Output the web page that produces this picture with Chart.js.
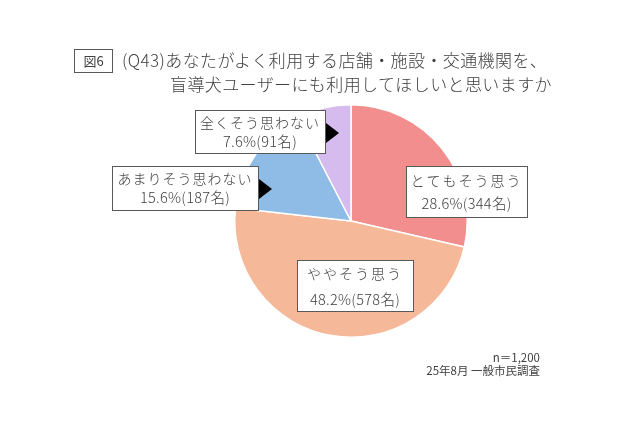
<!DOCTYPE html>
<html lang="ja">
<head>
<meta charset="utf-8">
<script src="https://cdn.jsdelivr.net/npm/chart.js@4.4.1/dist/chart.umd.min.js"></script>
<style>
  html, body { margin: 0; padding: 0; background: #ffffff; }
  #wrap { position: relative; width: 640px; height: 426px; overflow: hidden;
          font-family: "Noto Sans CJK JP", "Noto Sans", sans-serif; color: #404040; }
  #c { position: absolute; left: 0; top: 0; }
  .fig { position: absolute; left: 74px; top: 49px; width: 37px; height: 22px;
         border: 1px solid #595959; font-size: 13px; line-height: 22px; text-align: center; }
  .t { position: absolute; font-size: 17px; line-height: 24px; white-space: nowrap; letter-spacing: 0.4px; font-weight: 300; }
  .note { position: absolute; right: 100px; font-size: 11.5px; line-height: 16px; white-space: nowrap; text-align: right; }
</style>
</head>
<body>
<div id="wrap">
  <canvas id="c" width="640" height="426"></canvas>
  <div class="fig">図6</div>
  <div class="t" style="left:122px; top:48px;">(Q43)あなたがよく利用する店舗・施設・交通機関を、</div>
  <div class="t" style="left:170px; top:72px;">盲導犬ユーザーにも利用してほしいと思いますか</div>
  <div class="note" style="top:349px;">n＝1,200</div>
  <div class="note" style="top:362px;">25年8月 一般市民調査</div>
</div>
<script>
const categories = ["とてもそう思う", "ややそう思う", "あまりそう思わない", "全くそう思わない"];
const percents = [28.6, 48.2, 15.6, 7.6];
const counts = [344, 578, 187, 91];
const colors = ["#F28E8E", "#F5B999", "#8FBBE7", "#D5BBEE"];

const calloutPlugin = {
  id: "callouts",
  afterDraw(chart, args, opts) {
    const ctx = chart.ctx;
    ctx.save();
    opts.boxes.forEach((b, i) => {
      ctx.fillStyle = "#ffffff";
      ctx.fillRect(b.x, b.y, b.w, b.h);
      ctx.strokeStyle = "#595959";
      ctx.lineWidth = 1;
      ctx.strokeRect(b.x + 0.5, b.y + 0.5, b.w, b.h);
      if (b.arrow) {
        ctx.fillStyle = "#000000";
        ctx.beginPath();
        ctx.moveTo(b.arrow.x, b.arrow.y - b.arrow.s);
        ctx.lineTo(b.arrow.x + b.arrow.len, b.arrow.y);
        ctx.lineTo(b.arrow.x, b.arrow.y + b.arrow.s);
        ctx.closePath();
        ctx.fill();
      }
      ctx.fillStyle = "#404040";
      ctx.textAlign = "center";
      ctx.textBaseline = "middle";
      ctx.font = '300 14px "Noto Sans CJK JP", sans-serif';
      if ("letterSpacing" in ctx) ctx.letterSpacing = b.ls1 + "px";
      const cx = b.x + b.w / 2;
      ctx.fillText(categories[i], cx, b.l1);
      ctx.font = '300 14.5px "Noto Sans CJK JP", sans-serif';
      if ("letterSpacing" in ctx) ctx.letterSpacing = "0.3px";
      ctx.fillText(percents[i].toFixed(1) + "%(" + counts[i] + "名)", cx, b.l2);
    });
    ctx.restore();
  }
};

new Chart(document.getElementById("c"), {
  type: "pie",
  data: {
    labels: categories,
    datasets: [{
      data: percents,
      backgroundColor: colors,
      borderColor: "#ffffff",
      borderWidth: 1.5
    }]
  },
  options: {
    responsive: false,
    animation: false,
    layout: { padding: { left: 234, right: 172, top: 103, bottom: 87 } },
    plugins: {
      legend: { display: false },
      tooltip: { enabled: false },
      title: { display: false },
      callouts: {
        boxes: [
          { x: 406, y: 166, w: 121, h: 51, l1: 181, l2: 203, ls1: 2 },
          { x: 297, y: 260, w: 116, h: 51, l1: 274, l2: 299, ls1: 2 },
          { x: 112, y: 166, w: 146, h: 44, l1: 179, l2: 197, ls1: 1,
            arrow: { x: 259, y: 189, s: 10, len: 13 } },
          { x: 195, y: 110, w: 130, h: 43, l1: 123, l2: 141, ls1: 1,
            arrow: { x: 326, y: 133, s: 10, len: 13 } }
        ]
      }
    }
  },
  plugins: [calloutPlugin]
});
</script>
</body>
</html>
